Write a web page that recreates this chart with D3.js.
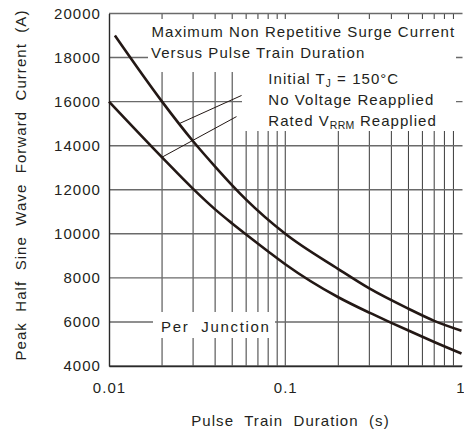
<!DOCTYPE html>
<html>
<head>
<meta charset="utf-8">
<script src="https://cdn.jsdelivr.net/npm/d3@7"></script>
<style>
  html, body { margin: 0; padding: 0; background: #fff; }
  svg { display: block; }
  text { font-family: "Liberation Sans", Arial, Helvetica, sans-serif; fill: #231f20; }
</style>
</head>
<body>
<svg id="chart" width="464" height="430"></svg>
<script>
// Surge current ratings versus pulse train duration
const noVoltageDuration = [0.0108, 0.02, 0.03, 0.04, 0.05, 0.06, 0.1, 0.2, 0.3, 0.5, 0.7, 1.0];
const noVoltageCurrent  = [19000, 16000, 14200, 13050, 12200, 11550, 10000, 8400, 7520, 6600, 6050, 5600];

const ratedVrrmDuration = [0.01, 0.02, 0.03, 0.04, 0.05, 0.06, 0.08, 0.1, 0.2, 0.3, 0.4, 0.5, 0.7, 1.0];
const ratedVrrmCurrent  = [16000, 13470, 12040, 11110, 10470, 9970, 9200, 8620, 7120, 6420, 5960, 5610, 5090, 4565];

const xTickValues = [0.01, 0.1, 1];
const xTickLabels = ["0.01", "0.1", "1"];
const yTickValues = [4000, 6000, 8000, 10000, 12000, 14000, 16000, 18000, 20000];
const xGridValues = [0.02, 0.03, 0.04, 0.05, 0.06, 0.07, 0.08, 0.09, 0.1,
                     0.2, 0.3, 0.4, 0.5, 0.6, 0.7, 0.8, 0.9];

const svg = d3.select("#chart");
const plotL = 109, plotR = 461.5, plotT = 13.5, plotB = 366;

const x = d3.scaleLog().domain([0.01, 1]).range([plotL, plotR]);
const y = d3.scaleLinear().domain([4000, 20000]).range([plotB, plotT]);

const ink = "#231815";
const LS = "1.05px";

// grid
const grid = svg.append("g");
grid.selectAll("line.v").data(xGridValues).join("line")
  .attr("x1", d => x(d)).attr("x2", d => x(d))
  .attr("y1", plotT).attr("y2", plotB)
  .attr("stroke", "#3a3a3a").attr("stroke-width", 1);
grid.selectAll("line.h").data(yTickValues).join("line")
  .attr("x1", plotL).attr("x2", plotR + 1)
  .attr("y1", d => y(d)).attr("y2", d => y(d))
  .attr("stroke", "#6a6a6a").attr("stroke-width", 1.4);

// white panels behind the notes
const panels = [
  [148, 19, 456, 72],
  [242, 72, 456, 131],
  [153, 312, 275, 338]
];
svg.append("g").selectAll("rect").data(panels).join("rect")
  .attr("x", d => d[0]).attr("y", d => d[1])
  .attr("width", d => d[2] - d[0]).attr("height", d => d[3] - d[1])
  .attr("fill", "#fff");

// axes
const xAxis = d3.axisBottom(x).tickValues(xTickValues)
  .tickFormat((d, i) => xTickLabels[i]).tickSize(0).tickSizeOuter(0).tickPadding(16);
const yAxis = d3.axisLeft(y).tickValues(yTickValues)
  .tickFormat(d3.format("d")).tickSize(0).tickSizeOuter(0).tickPadding(8);

const gx = svg.append("g").attr("transform", `translate(0,${plotB})`).call(xAxis);
const gy = svg.append("g").attr("transform", `translate(${plotL},0)`).call(yAxis);
[gx, gy].forEach(g => {
  g.select(".domain").attr("stroke", "#2a2a2a").attr("stroke-width", 1.4);
  g.selectAll("text").attr("font-size", 15).style("letter-spacing", LS)
    .attr("fill", ink).style("font-family", '"Liberation Sans", Arial, sans-serif');
});
// keep the last label inside the right edge
gx.selectAll("text").filter(d => d === 1).style("letter-spacing", "0px").attr("dx", -1.5);

// curves
const line = d3.line().x(d => x(d[0])).y(d => y(d[1])).curve(d3.curveMonotoneX);
const series = [
  d3.zip(noVoltageDuration, noVoltageCurrent),
  d3.zip(ratedVrrmDuration, ratedVrrmCurrent)
];
svg.append("g").selectAll("path").data(series).join("path")
  .attr("d", line).attr("fill", "none")
  .attr("stroke", ink).attr("stroke-width", 2.6).attr("stroke-linecap", "butt");

// leader lines from the notes to each curve
const leaders = [
  [[0.025, 15000], [0.0565, 16280]],
  [[0.0197, 13450], [0.0529, 15320]]
];
svg.append("g").selectAll("line").data(leaders).join("line")
  .attr("x1", d => x(d[0][0])).attr("y1", d => y(d[0][1]))
  .attr("x2", d => x(d[1][0])).attr("y2", d => y(d[1][1]))
  .attr("stroke", ink).attr("stroke-width", 1);

// notes
const notes = svg.append("g").attr("font-size", 15).style("letter-spacing", LS);
notes.append("text").attr("x", 151.5).attr("y", 37).text("Maximum Non Repetitive Surge Current");
notes.append("text").attr("x", 151).attr("y", 58).text("Versus Pulse Train Duration");

const t1 = notes.append("text").attr("x", 268.3).attr("y", 84);
t1.append("tspan").text("Initial T");
t1.append("tspan").attr("font-size", 10).attr("dy", 3).text("J");
t1.append("tspan").attr("dy", -3).text(" = 150°C");

notes.append("text").attr("x", 268.3).attr("y", 105).text("No Voltage Reapplied");

const t3 = notes.append("text").attr("x", 268.3).attr("y", 126);
t3.append("tspan").text("Rated V");
t3.append("tspan").attr("font-size", 10.5).attr("dy", 3).style("letter-spacing", "0.3px").text("RRM");
t3.append("tspan").attr("dy", -3).text(" Reapplied");

notes.append("text").attr("x", 161).attr("y", 331.7)
  .style("letter-spacing", "1.7px").style("white-space", "pre").text("Per  Junction");

// axis titles
svg.append("text").attr("x", 290.5).attr("y", 425.7).attr("text-anchor", "middle")
  .attr("font-size", 15).style("letter-spacing", LS).style("white-space", "pre")
  .text("Pulse  Train  Duration  (s)");
svg.append("text").attr("transform", "translate(25.5,185) rotate(-90)").attr("text-anchor", "middle")
  .attr("font-size", 15).style("letter-spacing", LS).style("white-space", "pre")
  .text("Peak  Half  Sine  Wave  Forward  Current  (A)");
</script>
</body>
</html>
